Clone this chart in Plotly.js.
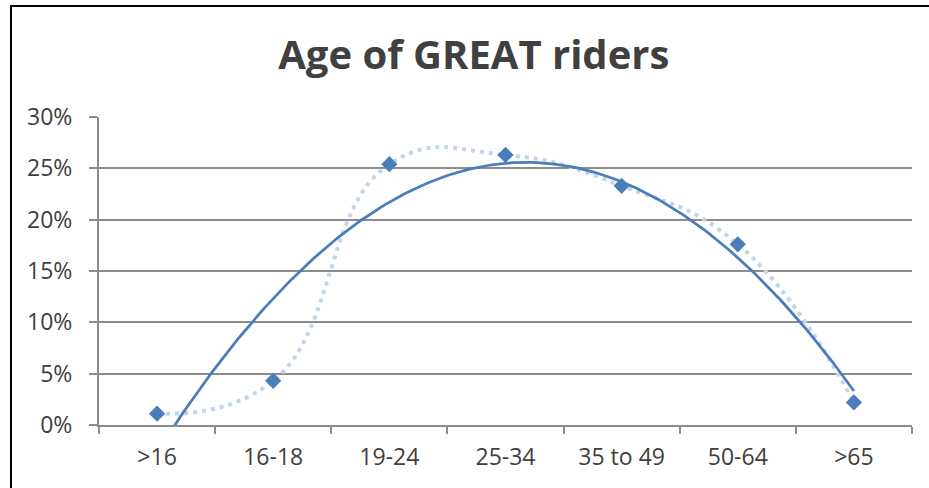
<!DOCTYPE html>
<html>
<head>
<meta charset="utf-8">
<script src="https://cdn.plot.ly/plotly-3.0.1.min.js"></script>
<style>
  html, body { margin: 0; padding: 0; background: #fff; }
  #chart { width: 929px; height: 488px; }
  #frame { position: absolute; left: 10px; top: 5px; width: 940px; height: 500px;
           border-left: 2px solid #000; border-top: 2px solid #000; pointer-events: none; }
</style>
</head>
<body>
<div id="chart"></div>
<div id="frame"></div>
<script>
// Data
const categories = [">16", "16-18", "19-24", "25-34", "35 to 49", "50-64", ">65"];
const shares = [1.1, 4.3, 25.4, 26.3, 23.3, 17.6, 2.2];   // percent of riders
const yTicks = [0, 5, 10, 15, 20, 25, 30];

// Polynomial (order 2) trendline: least-squares fit of shares against category index
function quadFit(ys) {
  let S = [0, 0, 0, 0, 0], T = [0, 0, 0];
  ys.forEach((y, i) => {
    const x = i;
    for (let k = 0; k < 5; k++) S[k] += Math.pow(x, k);
    for (let k = 0; k < 3; k++) T[k] += y * Math.pow(x, k);
  });
  const A = [[S[0], S[1], S[2], T[0]], [S[1], S[2], S[3], T[1]], [S[2], S[3], S[4], T[2]]];
  for (let c = 0; c < 3; c++) {
    for (let r = c + 1; r < 3; r++) {
      const f = A[r][c] / A[c][c];
      for (let k = c; k < 4; k++) A[r][k] -= f * A[c][k];
    }
  }
  const coef = [0, 0, 0];
  for (let r = 2; r >= 0; r--) {
    let s = A[r][3];
    for (let k = r + 1; k < 3; k++) s -= A[r][k] * coef[k];
    coef[r] = s / A[r][r];
  }
  return coef;
}
const coef = quadFit(shares);
const trendX = [], trendY = [];
for (let x = 0; x <= shares.length - 1 + 1e-9; x += 0.02) {
  trendX.push(x);
  trendY.push(coef[0] + coef[1] * x + coef[2] * x * x);
}

const blue = '#4a7ebb';
const font = '"Open Sans", Lato, sans-serif';

const traces = [
  {
    x: categories, y: shares, type: 'scatter', mode: 'lines',
    line: { shape: 'spline', smoothing: 1.3, color: '#c3d4ea', width: 4, dash: '4px,5px' },
    hoverinfo: 'skip', showlegend: false
  },
  {
    x: trendX, y: trendY, xaxis: 'x2', type: 'scatter', mode: 'lines',
    line: { color: blue, width: 2.75 }, showlegend: false
  },
  {
    x: categories, y: shares, type: 'scatter', mode: 'markers',
    marker: { symbol: 'diamond', size: 12.5, color: blue }, showlegend: false
  }
];

const layout = {
  width: 929, height: 488,
  margin: { l: 99, r: 17, t: 117, b: 63 },
  paper_bgcolor: '#fff', plot_bgcolor: '#fff',
  title: {
    text: '<b>Age of GREAT riders</b>',
    font: { family: font, size: 40, color: '#404040' },
    x: 0.51, xanchor: 'center', y: 0.887, yanchor: 'middle'
  },
  xaxis: {
    type: 'category', range: [-0.5, 6.5],
    tickson: 'boundaries', ticks: 'outside', ticklen: 7, tickwidth: 2, tickcolor: '#8c8c8c',
    showline: true, linecolor: '#8c8c8c', linewidth: 2,
    showgrid: false, zeroline: false,
    tickfont: { family: font, size: 23, color: '#404040' },
    ticklabelstandoff: 10
  },
  xaxis2: {
    overlaying: 'x', range: [-0.5, 6.5], visible: false, showgrid: false, zeroline: false
  },
  yaxis: {
    range: [0, 30], tickvals: yTicks, ticktext: yTicks.map(v => v + '%'),
    ticks: 'outside', ticklen: 8, tickwidth: 2, tickcolor: '#8c8c8c',
    showgrid: true, gridcolor: '#8c8c8c', gridwidth: 2,
    showline: true, linecolor: '#8c8c8c', linewidth: 2,
    zeroline: false,
    tickfont: { family: font, size: 23, color: '#404040' },
    ticklabelstandoff: 12
  }
};

Plotly.newPlot('chart', traces, layout, { staticPlot: true, displayModeBar: false });
</script>
</body>
</html>
